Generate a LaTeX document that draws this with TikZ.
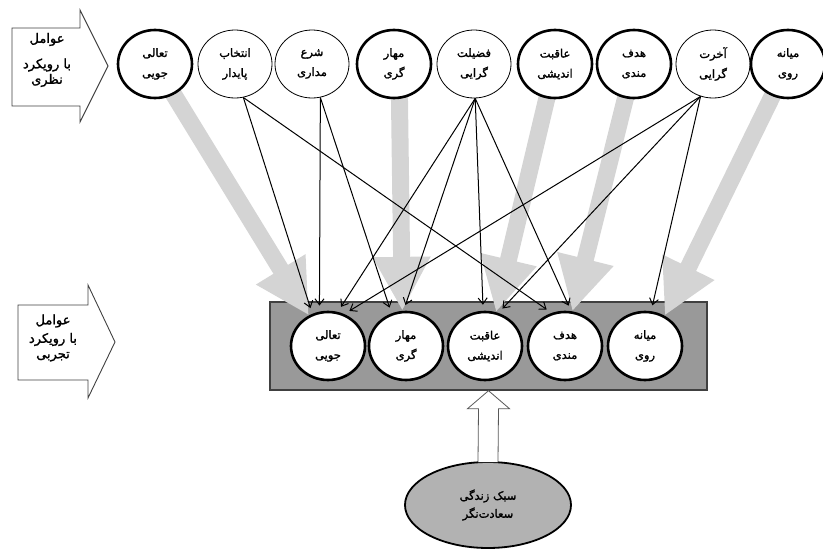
\documentclass[tikz,border=0pt]{standalone}
\usepackage{fontspec}
\newfontfamily\arabicfont[Script=Arabic,FakeBold=1.6]{DejaVu Sans}
\TeXXeTstate=1
\usetikzlibrary{shapes.geometric,arrows.meta,calc}
\pgfdeclarelayer{bglayer}
\pgfdeclarelayer{midlayer}
\pgfsetlayers{bglayer,midlayer,main}
\newcommand{\fa}[1]{{\arabicfont\beginR #1\endR}}
\begin{document}
\begin{tikzpicture}[x=1pt,y=-1pt,
  circthick/.style={ellipse, draw=black, line width=2.6pt, fill=white,
    minimum width=74pt, minimum height=68pt, inner sep=0pt, align=center,
    font=\fontsize{11.5}{20}\selectfont},
  circthin/.style={circthick, line width=0.8pt},
  widearrow/.style={draw=black!17, line width=17pt,
    -{Triangle[length=54pt,width=54pt]}},
  thinarrow/.style={draw=black, line width=1pt, shorten >=6pt,
    -{Straight Barb[length=6pt,width=9pt]}},
  blockarrow/.style={draw=black!75, line width=0.9pt, fill=white},
  sidetext/.style={align=center, font=\fontsize{13}{15.5}\selectfont},
  hollow/.style={draw=black!65, line width=0.8pt, fill=white},
]
\useasboundingbox (0,0) rectangle (823,549);

% left block arrows
\draw[blockarrow] (12,28) -- (80,28) -- (80,10) -- (108,66) -- (80,122) -- (80,106) -- (12,106) -- cycle;
\node[sidetext] (lt) at (47,60) {\fa{عوامل}\\[10pt]\fa{با رویکرد}\\\fa{نظری}};
\draw[blockarrow] (18,305) -- (88,305) -- (88,285) -- (115,342) -- (88,398) -- (88,380) -- (18,380) -- cycle;
\node[sidetext] (lb) at (53,338) {\fa{عوامل}\\[3pt]\fa{با رویکرد}\\\fa{تجربی}};

% top circles
\node[circthick] (t1) at (155,64) {\fa{تعالی}\\\fa{جویی}};
\node[circthin]  (t2) at (235,64) {\fa{انتخاب}\\\fa{پایدار}};
\node[circthin]  (t3) at (312,64) {\fa{شرع}\\\fa{مداری}};
\node[circthick] (t4) at (394,64) {\fa{مهار}\\\fa{گری}};
\node[circthin]  (t5) at (474,64) {\fa{فضیلت}\\\fa{گرایی}};
\node[circthick] (t6) at (555,64) {\fa{عاقبت}\\\fa{اندیشی}};
\node[circthick] (t7) at (634,64) {\fa{هدف}\\\fa{مندی}};
\node[circthin]  (t8) at (713,64) {\fa{آخرت}\\\fa{گرایی}};
\node[circthick] (t9) at (788,64) {\fa{میانه}\\\fa{روی}};

% bottom circles
\node[circthick] (b1) at (328,346) {\fa{تعالی}\\\fa{جویی}};
\node[circthick] (b2) at (406,346) {\fa{مهار}\\\fa{گری}};
\node[circthick] (b3) at (485,346) {\fa{عاقبت}\\\fa{اندیشی}};
\node[circthick] (b4) at (565,346) {\fa{هدف}\\\fa{مندی}};
\node[circthick] (b5) at (645,346) {\fa{میانه}\\\fa{روی}};

% grey box behind
\begin{pgfonlayer}{bglayer}
\node[draw=black!75, line width=1.4pt, fill=black!40, minimum width=437pt,
  minimum height=88pt, inner sep=0pt] (box) at (488.5,346) {};
\end{pgfonlayer}

% wide grey arrows
\begin{pgfonlayer}{midlayer}
\draw[widearrow] (t1.center) -- (b1.122);
\draw[widearrow] ($(t4.center)+(5,0)$) -- (b2.96);
\draw[widearrow] (t6.center) -- (b3.72);
\draw[widearrow] (t7.center) -- (b4.78);
\draw[widearrow] (t9.center) -- (b5.57);
\end{pgfonlayer}

% thin arrows
\draw[thinarrow] (t2.-76) -- (b1.116);
\draw[thinarrow] (t2.-76) -- (b4.112);
\draw[thinarrow] (t3.-76) -- (b1.104);
\draw[thinarrow] (t3.-76) -- (b2.114);
\draw[thinarrow] (t5.-88) -- (b1.74);
\draw[thinarrow] (t5.-88) -- (b2.94);
\draw[thinarrow] (t5.-88) -- (b3.93);
\draw[thinarrow] (t5.-88) -- (b4.80);
\draw[thinarrow] (t8.-111) -- (b1.63);
\draw[thinarrow] (t8.-111) -- (b3.68);
\draw[thinarrow] (t8.-111) -- (b5.80);

% bottom ellipse and hollow arrow
\node[ellipse, draw=black, line width=1.8pt, fill=black!30, minimum width=166pt,
  minimum height=86pt, inner sep=0pt, align=center,
  font=\fontsize{11.5}{18}\selectfont] (ell) at (488,505)
  {\fa{سبک زندگی}\\\fa{سعادت‌نگر}};
\draw[hollow] ($(ell.north)+(-10,1)$) -- ($(box.south)+(-10,18)$)
  -- ($(box.south)+(-21,18)$) -- (box.south) -- ($(box.south)+(21,18)$)
  -- ($(box.south)+(10,18)$) -- ($(ell.north)+(10,1)$);
\end{tikzpicture}
\end{document}
